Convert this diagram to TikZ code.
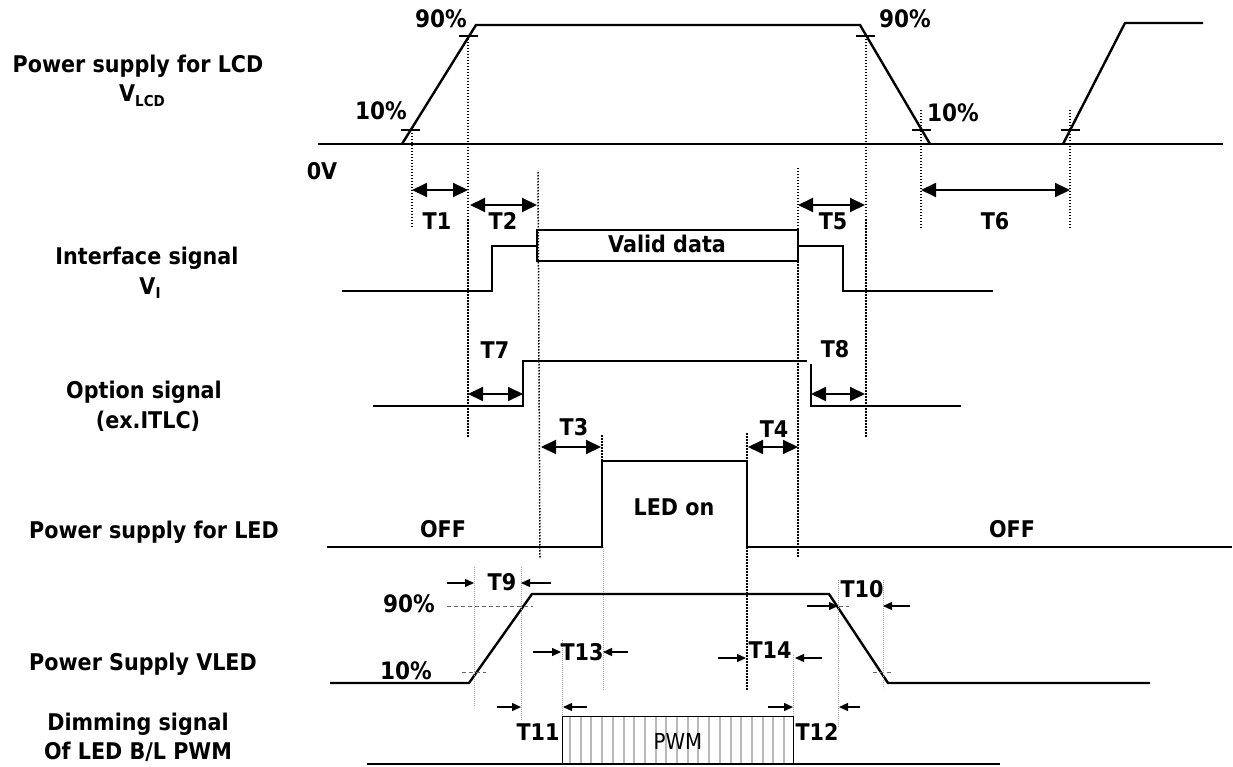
\documentclass[tikz,border=0pt]{standalone}
\usepackage{fontspec}
\setmainfont{DejaVu Sans}[FakeStretch=0.9]
\usetikzlibrary{arrows.meta}
\begin{document}
\begin{tikzpicture}[x=1pt,y=-1pt,
  sig/.style={line width=2.4pt,line join=miter},
  dotv/.style={line width=1.5pt,dash pattern=on 1.5pt off 1.5pt},
  thinv/.style={line width=0.8pt,gray!70,dash pattern=on 1.2pt off 0.8pt},
  bigarr/.style={line width=2pt,{Triangle[length=15pt,width=14pt]}-{Triangle[length=15pt,width=14pt]}},
  smarr/.style={line width=1.4pt,-{Triangle[length=9pt,width=8pt]}},
  tickm/.style={line width=1.2pt},
  dtick/.style={line width=0.9pt,gray!80!black,dash pattern=on 4pt off 3pt},
  lbl/.style={font=\fontsize{23}{26}\selectfont\bfseries,inner sep=0pt,anchor=base},
  pclbl/.style={font=\fontsize{24}{26}\selectfont\bfseries,inner sep=0pt,anchor=base},
  plbl/.style={font=\fontsize{22}{24}\selectfont,inner sep=0pt,anchor=base},
]
\useasboundingbox (0,0) rectangle (1233,767);
\fill[white] (0,0) rectangle (1233,767);

% ---------- left labels ----------
\node[lbl] (l1a) at (138,73) {Power supply for LCD};
\node[lbl] (l1b) at (142,102) {V\raisebox{-5pt}{\fontsize{15}{15}\selectfont LCD}};
\node[lbl] (l2a) at (147,264) {Interface signal};
\node[lbl] (l2b) at (150,294) {V\raisebox{-5pt}{\fontsize{15}{15}\selectfont I}};
\node[lbl] (l3a) at (144,398) {Option signal};
\node[lbl] (l3b) at (148,428) {(ex.ITLC)};
\node[lbl] (l4) at (154,538) {Power supply for LED};
\node[lbl] (l5) at (143,670) {Power Supply VLED};
\node[lbl] (l6a) at (138,730) {Dimming signal};
\node[lbl] (l6b) at (138,759) {Of LED B/L PWM};

% ---------- VLCD ----------
\draw[sig] (318,144) -- (1223,144);
\draw[sig] (402,144) -- (476,25) -- (860,25) -- (930,144);
\draw[sig] (1063,144) -- (1125,23) -- (1203,23);
\draw[tickm] (401,130) -- (420,130);
\draw[tickm] (459,36) -- (478,36);
\draw[tickm] (856,36) -- (875,36);
\draw[tickm] (912,130) -- (931,130);
\draw[tickm] (1061,130) -- (1080,130);
\node[pclbl] (p90a) at (441,28) {90\%};
\node[pclbl] (p10a) at (381,120) {10\%};
\node[pclbl] (p90b) at (905,28) {90\%};
\node[pclbl] (p10b) at (953,122) {10\%};
\node[lbl] (zv) at (322,180) {0V};

% ---------- dotted guides ----------
\draw[dotv] (412,130) -- (412,229);
\draw[dotv] (468,36) -- (468,437);
\draw[dotv] (538,172) -- (540,558);
\draw[dotv] (798,168) -- (798,558);
\draw[dotv] (866,36) -- (866,438);
\draw[dotv] (921,110) -- (921,229);
\draw[dotv] (1070,110) -- (1070,229);
\draw[dotv] (602,435) -- (602,461);
\draw[dotv] (747,433) -- (747,690);
\draw[thinv] (603,547) -- (603,691);

% ---------- big timing arrows ----------
\draw[bigarr] (412,190) -- (468,190);
\draw[bigarr] (470,205) -- (537,205);
\draw[bigarr] (798,205) -- (865,205);
\draw[bigarr] (921,190) -- (1070,190);
\draw[bigarr] (468,394) -- (523,394);
\draw[bigarr] (811,394) -- (865,394);
\draw[bigarr] (541,447) -- (601,447);
\draw[bigarr] (748,447) -- (798,447);
\node[lbl] (t1) at (437,230) {T1};
\node[lbl] (t2) at (503,230) {T2};
\node[lbl] (t5) at (833,230) {T5};
\node[lbl] (t6) at (995,230) {T6};
\node[lbl] (t7) at (495,358) {T7};
\node[lbl] (t8) at (835,357) {T8};
\node[lbl] (t3) at (574,435) {T3};
\node[lbl] (t4) at (774,437) {T4};

% ---------- Interface signal ----------
\draw[sig] (342,291) -- (492,291) -- (492,246) -- (537,246);
\draw[line width=2pt] (537,230) rectangle (798,261);
\draw[sig] (798,246) -- (843,246) -- (843,291) -- (993,291);
\node[lbl] (vd) at (667,252) {Valid data};

% ---------- Option signal ----------
\draw[sig] (373,406) -- (523,406) -- (523,361) -- (807,361);
\draw[sig] (811,364) -- (811,406) -- (961,406);

% ---------- LED power ----------
\draw[sig] (327,547) -- (602,547) -- (602,461) -- (747,461) -- (747,547) -- (1232,547);
\node[lbl] (off1) at (443,537) {OFF};
\node[lbl] (off2) at (1012,537) {OFF};
\node[lbl] (ledon) at (674,515) {LED on};

% ---------- VLED ----------
\draw[sig] (330,683) -- (469,683) -- (532,594) -- (829,594) -- (888,683) -- (1150,683);
\draw[dtick] (447,606) -- (533,606);
\draw[dtick] (462,672) -- (486,672);
\draw[dtick] (832,606) -- (849,606);
\draw[dtick] (873,672) -- (893,672);
\node[pclbl] (v90) at (409,612) {90\%};
\node[pclbl] (v10) at (406,679) {10\%};

\draw[thinv] (474,567) -- (474,707);
\draw[thinv] (521,567) -- (521,720);
\draw[thinv] (838,580) -- (838,727);
\draw[thinv] (883,580) -- (883,688);
\draw[thinv] (562,640) -- (562,716);
\draw[thinv] (793,655) -- (793,716);

\draw[smarr] (447,583) -- (474,583);
\draw[smarr] (551,583) -- (521,583);
\draw[smarr] (807,606) -- (838,606);
\draw[smarr] (910,606) -- (883,606);
\draw[smarr] (533,652) -- (561,652);
\draw[smarr] (628,652) -- (603,652);
\draw[smarr] (718,658) -- (746,658);
\draw[smarr] (822,658) -- (795,658);
\draw[smarr] (497,707) -- (521,707);
\draw[smarr] (587,707) -- (563,707);
\draw[smarr] (768,707) -- (793,707);
\draw[smarr] (860,707) -- (839,707);
\node[lbl] (t9) at (502,590) {T9};
\node[lbl] (t10) at (862,597) {T10};
\node[lbl] (t13) at (582,660) {T13};
\node[lbl] (t14) at (770,658) {T14};
\node[lbl] (t11) at (538,740) {T11};
\node[lbl] (t12) at (817,740) {T12};

% ---------- PWM ----------
\foreach \i in {0,...,20} \draw[gray!55,line width=2pt] ({570+\i*10.7},716) -- ({570+\i*10.7},764);
\draw[line width=1pt] (562,716) rectangle (793,764);
\draw[sig] (367,764) -- (1000,764);
\node[plbl] (pwm) at (678,749) {PWM};
\end{tikzpicture}
\end{document}
